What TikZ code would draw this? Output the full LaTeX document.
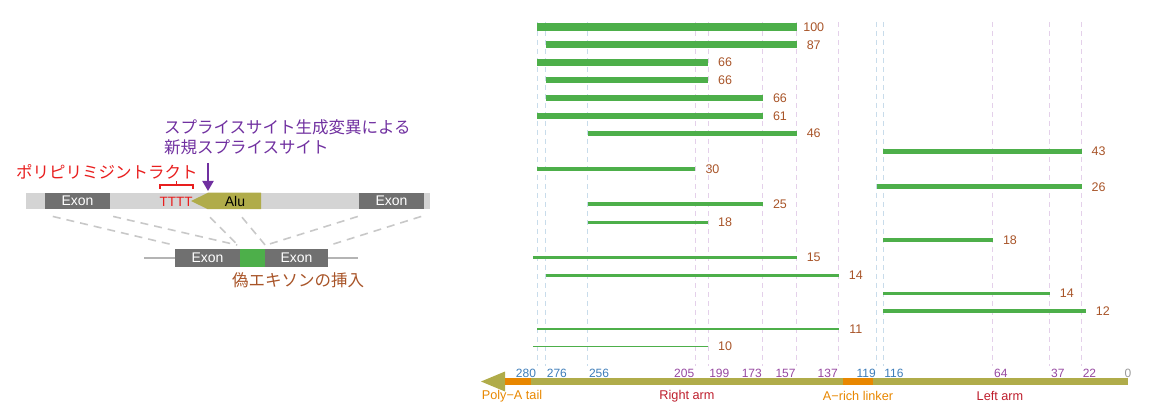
\documentclass[tikz,border=0pt]{standalone}
\usepackage{fontspec}
\setmainfont{Liberation Sans}
\newfontfamily\jafont{Noto Sans CJK JP}
\usetikzlibrary{arrows.meta,calc}

\definecolor{readgreen}{RGB}{77,175,74}
\definecolor{countbrown}{RGB}{168,84,40}
\definecolor{numblue}{RGB}{62,125,185}
\definecolor{numpurple}{RGB}{150,72,160}
\definecolor{lineblue}{RGB}{200,220,235}
\definecolor{linepurple}{RGB}{228,208,234}
\definecolor{aluolive}{RGB}{176,172,74}
\definecolor{tailorange}{RGB}{232,135,0}
\definecolor{armred}{RGB}{190,30,45}
\definecolor{stripgray}{RGB}{212,212,212}
\definecolor{exongray}{RGB}{112,112,112}
\definecolor{sitered}{RGB}{232,30,30}
\definecolor{sitepurple}{RGB}{112,48,160}
\definecolor{splicegray}{RGB}{200,200,200}

\tikzset{
  exonbox/.style={fill=exongray, text=white, inner sep=0, minimum width=65,
    minimum height=16.5, font=\fontsize{14}{15}\selectfont},
  jalabel/.style={inner sep=0, anchor=west, font=\jafont\fontsize{16.5}{18}\selectfont},
  splice/.style={splicegray, line width=1.6pt, dash pattern=on 8pt off 6pt},
  readbar/.style={readgreen},
  count/.style={text=countbrown, inner sep=0, font=\fontsize{12.5}{14}\selectfont},
  tick/.style={inner sep=1pt, font=\fontsize{12}{13}\selectfont},
  armlabel/.style={inner sep=0, font=\fontsize{12.7}{14}\selectfont}
}

\begin{document}
\begin{tikzpicture}[x=1pt, y=-1pt]
    \useasboundingbox (0,0) rectangle (1160,414);

    % Gene with Alu insertion
    \node[fill=stripgray, minimum width=404, minimum height=16.5, inner sep=0] (gene) at (228,201) {};
    \node[exonbox] (exL) at (77.5,201) {Exon};
    \node[exonbox] (exR) at (391.5,201) {Exon};
    \fill[aluolive] (191,201) -- (208,192.75) -- (261,192.75) -- (261,209.25) -- (208,209.25) -- cycle;
    \node[inner sep=0, font=\fontsize{14}{15}\selectfont] (alu) at (235,201) {Alu};
    \coordinate (aluL) at (208,209.25);
    \coordinate (aluM) at (242,209.25);

    % Polypyrimidine tract
    \node[inner sep=0, text=sitered, font=\fontsize{13.5}{14}\selectfont] (tttt) at (176,202) {TTTT};
    \draw[sitered, line width=1.4pt] (160,189) -- (160,185) -- (193,185) -- (193,189);
    \draw[sitered, line width=1.4pt] (176.5,185) -- (176.5,181);
    \node[jalabel, text=sitered] (ppt) at (16,172) {ポリピリミジントラクト};

    % New splice site
    \node[jalabel, text=sitepurple] (site1) at (164,127) {スプライスサイト生成変異による};
    \node[jalabel, text=sitepurple] (site2) at (164,147) {新規スプライスサイト};
    \coordinate (arrtop) at (208,163);
    \draw[sitepurple, line width=2pt, -{Triangle[length=10pt, width=11pt]}] (arrtop) -- (208,191);

    % Spliced product
    \draw[splicegray!90!black, line width=1.5pt] (144,258) -- (358,258);
    \node[exonbox, minimum height=17.5] (mL) at (207.5,258) {Exon};
    \node[fill=readgreen, minimum width=25, minimum height=17.5, inner sep=0] (pseudo) at (252.5,258) {};
    \node[exonbox, minimum width=63, minimum height=17.5] (mR) at (296.5,258) {Exon};
    \node[jalabel, text=countbrown] (insert) at (232,280) {偽エキソンの挿入};

    % Splicing connectors
    \draw[splice] ($(exL.south west)+(8,7)$) -- ($(mL.north west)+(-1,-4)$);
    \draw[splice] ($(exL.south east)+(3,7)$) -- ($(mL.north east)+(-3,-4)$);
    \draw[splice] ($(aluL)+(2,8)$) -- ($(pseudo.north west)+(-2,-4)$);
    \draw[splice] ($(aluM)+(0,8)$) -- ($(pseudo.north east)+(0,-4)$);
    \draw[splice] ($(exR.south west)+(-1,7)$) -- ($(pseudo.north east)+(1,-4)$);
    \draw[splice] ($(exR.south east)+(-3,7)$) -- ($(mR.north east)+(2,-4)$);

    % Position guide lines
    \foreach \p/\c in {280/lineblue, 276/lineblue, 256/lineblue, 119/lineblue, 116/lineblue,
                       205/linepurple, 199/linepurple, 173/linepurple, 157/linepurple,
                       137/linepurple, 64/linepurple, 37/linepurple, 22/linepurple}
        \draw[\c, line width=1pt, dash pattern=on 5pt off 4pt] ({1128-2.11*\p},22) -- ({1128-2.11*\p},366);

    % Reads
    \foreach \s/\e/\r/\n/\w in {280/157/0/100/7.5, 276/157/1/87/7.2, 280/199/2/66/6.5,
                                276/199/3/66/6.3, 276/173/4/66/6.3, 280/173/5/61/6,
                                256/157/6/46/5.5, 116/22/7/43/5, 280/205/8/30/4.6,
                                119/22/9/26/5, 256/173/10/25/4, 256/199/11/18/3.3,
                                116/64/12/18/3.5, 282/157/13/15/3, 276/137/14/14/3,
                                116/37/15/14/3, 116/20/16/12/3, 280/137/17/11/2.4,
                                282/199/18/10/1.5}
        \draw[readbar, line width=\w pt] ({1128-2.11*\s},{27+17.75*\r}) -- ({1128-2.11*\e},{27+17.75*\r})
            node[count, xshift=17] (c\r) {\n};

    % Alu consensus axis
    \draw[aluolive, line width=7pt] (500,381.5) -- (1128,381.5);
    \fill[aluolive] (481,381.5) -- (505,371.5) -- (505,391.5) -- cycle;
    \draw[tailorange, line width=7pt] (505,381.5) -- (531,381.5);
    \draw[tailorange, line width=7pt] (843,381.5) -- (873,381.5);

    % Position numbers
    \foreach \p/\c/\a in {280/numblue/east, 276/numblue/west, 256/numblue/west,
                          205/numpurple/east, 199/numpurple/west, 173/numpurple/east,
                          157/numpurple/east, 137/numpurple/east, 119/numblue/east,
                          116/numblue/west, 64/numpurple/west, 37/numpurple/west,
                          22/numpurple/west}
        \node[tick, text=\c, anchor=\a] (t\p) at ({1128-2.11*\p},373) {\p};
    \node[tick, text=black!40] (t0) at (1128,373) {0};

    % Region names
    \node[armlabel, text=tailorange] (polya) at (512,396) {Poly\textminus A tail};
    \node[armlabel, text=armred] (rarm) at (687,396) {Right arm};
    \node[armlabel, text=tailorange] (linker) at (858,396) {A\textminus rich linker};
    \node[armlabel, text=armred] (larm) at (1000,396) {Left arm};
\end{tikzpicture}
\end{document}
